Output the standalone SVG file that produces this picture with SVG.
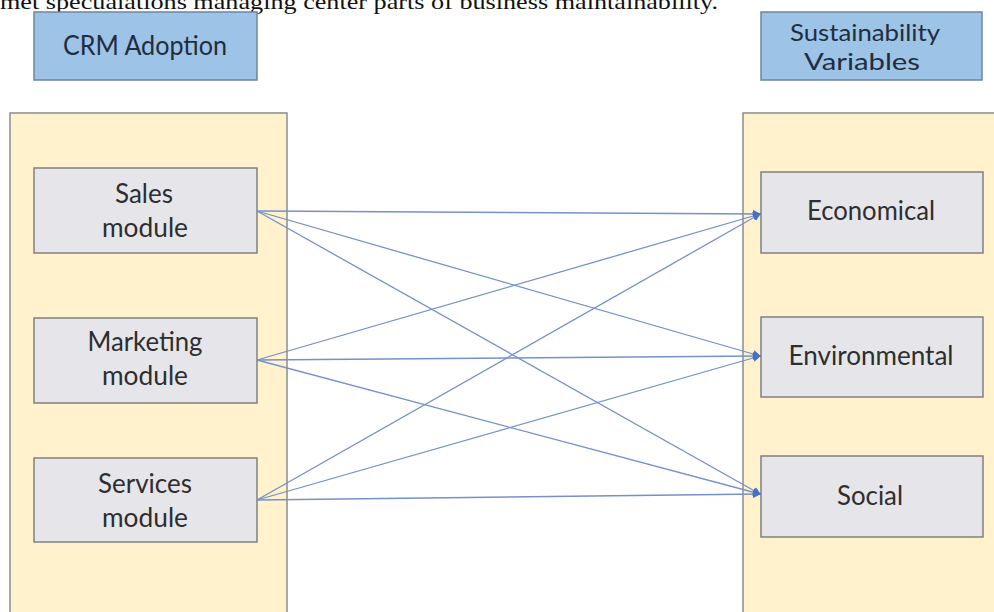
<svg xmlns="http://www.w3.org/2000/svg" width="994" height="612" viewBox="0 0 994 612">
<defs>
<style>
.hdr{fill:#9DC3E6;stroke:#6C86A3;stroke-width:1.5}
.cont{fill:#FFF2CC;stroke:#8C8C8C;stroke-width:1.5}
.box{fill:#E6E6EA;stroke:#808080;stroke-width:1.5}
.t{font-family:Lato,"Open Sans","Liberation Sans",sans-serif;font-size:26px;text-anchor:middle;fill:#2E2E2E}
.th{fill:#1F2D3F}
.sm{font-size:24px}
.c{stroke:#7391CC;stroke-width:1.3;fill:none}
.top{font-family:"Liberation Serif","Times New Roman",serif;font-size:22px;fill:#111}
</style>
<marker id="ah" markerWidth="8" markerHeight="8" refX="7" refY="4" orient="auto" markerUnits="userSpaceOnUse">
<path d="M0,0 L8,4 L0,8 Z" fill="#4472C4"/>
</marker>
</defs>
<rect width="994" height="612" fill="#FFFFFF"/>
<text class="top" x="0" y="9" textLength="718" lengthAdjust="spacingAndGlyphs">met specualations managing center parts of business maintainability.</text>

<g id="crm-adoption">
<rect class="hdr" x="34" y="12" width="223" height="68"/>
<text class="t th" x="145" y="55" textLength="164" lengthAdjust="spacingAndGlyphs">CRM Adoption</text>
</g>
<g id="sustainability-variables">
<rect class="hdr" x="761" y="12" width="221" height="68"/>
<text class="t th sm" x="865" y="41" textLength="150" lengthAdjust="spacingAndGlyphs">Sustainability</text>
<text class="t th sm" x="862" y="70" textLength="116" lengthAdjust="spacingAndGlyphs">Variables</text>
</g>

<g id="left-container">
<rect class="cont" x="10" y="113" width="277" height="510"/>
</g>
<g id="right-container">
<rect class="cont" x="743" y="113" width="270" height="510"/>
</g>

<g id="sales-module">
<rect class="box" x="34" y="168" width="223" height="85"/>
<text class="t" x="144" y="203" textLength="58" lengthAdjust="spacingAndGlyphs">Sales</text>
<text class="t" x="145" y="237" textLength="86" lengthAdjust="spacingAndGlyphs">module</text>
</g>
<g id="marketing-module">
<rect class="box" x="34" y="318" width="223" height="85"/>
<text class="t" x="145" y="351" textLength="115" lengthAdjust="spacingAndGlyphs">Marketing</text>
<text class="t" x="145" y="385" textLength="86" lengthAdjust="spacingAndGlyphs">module</text>
</g>
<g id="services-module">
<rect class="box" x="34" y="458" width="223" height="84"/>
<text class="t" x="145" y="493" textLength="94" lengthAdjust="spacingAndGlyphs">Services</text>
<text class="t" x="145" y="527" textLength="86" lengthAdjust="spacingAndGlyphs">module</text>
</g>

<g id="economical">
<rect class="box" x="761" y="172" width="222" height="81"/>
<text class="t" x="871" y="220" textLength="128" lengthAdjust="spacingAndGlyphs">Economical</text>
</g>
<g id="environmental">
<rect class="box" x="761" y="317" width="222" height="80"/>
<text class="t" x="871" y="365" textLength="165" lengthAdjust="spacingAndGlyphs">Environmental</text>
</g>
<g id="social">
<rect class="box" x="761" y="456" width="222" height="81"/>
<text class="t" x="870" y="505" textLength="66" lengthAdjust="spacingAndGlyphs">Social</text>
</g>

<g id="connectors">
<line class="c" x1="257" y1="211" x2="760" y2="214" marker-end="url(#ah)"/>
<line class="c" x1="257" y1="211" x2="760" y2="356" marker-end="url(#ah)"/>
<line class="c" x1="257" y1="211" x2="760" y2="494" marker-end="url(#ah)"/>
<line class="c" x1="257" y1="360" x2="760" y2="214" marker-end="url(#ah)"/>
<line class="c" x1="257" y1="360" x2="760" y2="356" marker-end="url(#ah)"/>
<line class="c" x1="257" y1="360" x2="760" y2="494" marker-end="url(#ah)"/>
<line class="c" x1="257" y1="500" x2="760" y2="214" marker-end="url(#ah)"/>
<line class="c" x1="257" y1="500" x2="760" y2="356" marker-end="url(#ah)"/>
<line class="c" x1="257" y1="500" x2="760" y2="494" marker-end="url(#ah)"/>
</g>
</svg>
